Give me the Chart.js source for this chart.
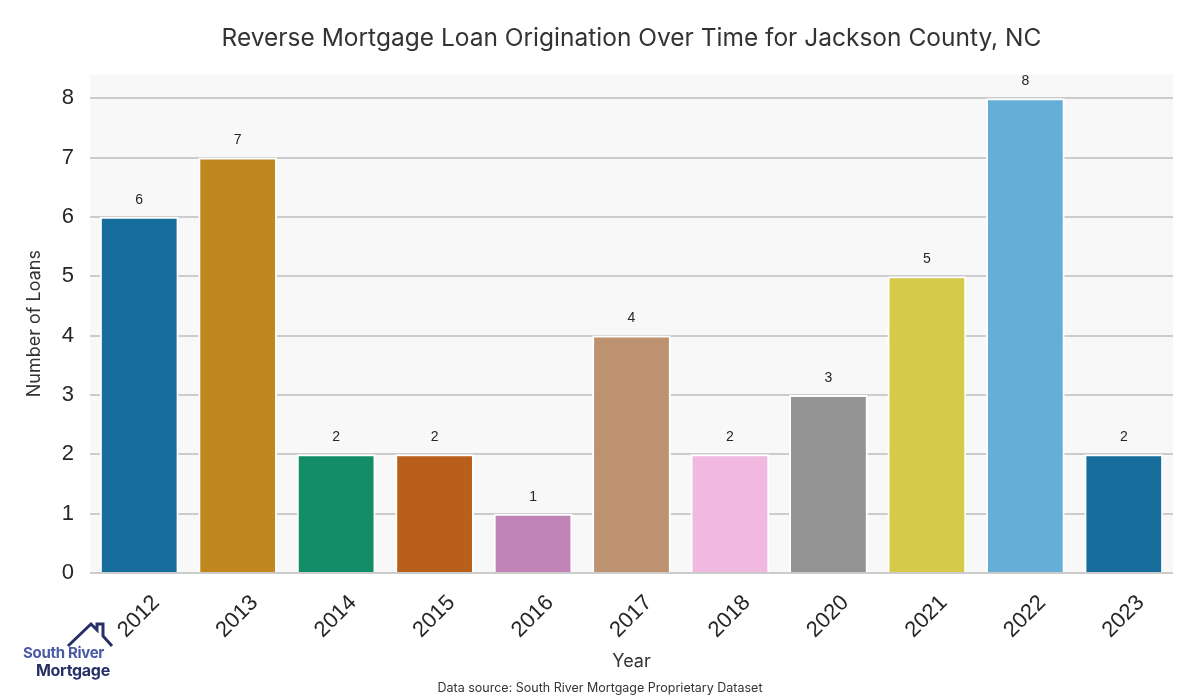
<!DOCTYPE html>
<html>
<head>
<meta charset="utf-8">
<script src="https://cdn.jsdelivr.net/npm/chart.js@4/dist/chart.umd.min.js"></script>
<style>
  html, body { margin: 0; padding: 0; background: #fff; }
  #wrap { position: relative; width: 1200px; height: 700px; }
  #logo { position: absolute; left: 18px; top: 618px; width: 100px; height: 64px; }
  #logo svg { position: absolute; left: 0; top: 0; }
  #logo .l1 { position: absolute; left: 5px; top: 25px; font: bold 15px Inter, sans-serif; color: #4a5aa6; letter-spacing: -0.3px; white-space: nowrap; }
  #logo .l2 { position: absolute; left: 18px; top: 42px; font: bold 16px Inter, sans-serif; color: #263066; letter-spacing: -0.3px; white-space: nowrap; }
</style>
</head>
<body>
<div id="wrap">
  <canvas id="chart" width="1200" height="700"></canvas>
  <div id="logo">
    <svg width="100" height="30" viewBox="18 618 100 30">
      <path d="M68 646 L91 624 L97 630 L97 624 L103 624 L103 636 L112 646" fill="none" stroke="#263066" stroke-width="3" stroke-linejoin="miter"/>
    </svg>
    <div class="l1">South River</div>
    <div class="l2">Mortgage</div>
  </div>
</div>
<script>
const years = ['2012', '2013', '2014', '2015', '2016', '2017', '2018', '2020', '2021', '2022', '2023'];
const loans = [6, 7, 2, 2, 1, 4, 2, 3, 5, 8, 2];
const barColors = ['#176d9c', '#c1871f', '#138d68', '#b85f1b', '#c283b6', '#bc9270',
  '#f1b8e0', '#939393', '#d5cb48', '#64aed7', '#176d9c'];
const sourceNote = 'Data source: South River Mortgage Proprietary Dataset';

// grey panel behind the plot
const plotBackground = {
  id: 'plotBackground',
  beforeDraw(chart) {
    const {ctx, chartArea: a} = chart;
    ctx.save();
    ctx.fillStyle = '#f8f8f8';
    ctx.fillRect(a.left, a.top, a.right - a.left, a.bottom - a.top);
    ctx.restore();
  }
};

// value above each bar, plus the source line centred on the page
const barValues = {
  id: 'barValues',
  afterDatasetsDraw(chart) {
    const ctx = chart.ctx;
    const meta = chart.getDatasetMeta(0);
    ctx.save();
    ctx.font = '14px "Liberation Sans", Arial, sans-serif';
    ctx.fillStyle = '#262626';
    ctx.textAlign = 'center';
    ctx.textBaseline = 'middle';
    meta.data.forEach(function(bar, i) {
      ctx.fillText(loans[i], bar.x, bar.y - 17);
    });
    ctx.font = '12.5px Inter, sans-serif';
    ctx.fillStyle = '#333333';
    ctx.fillText(sourceNote, chart.width / 2, 688);
    ctx.restore();
  }
};

new Chart(document.getElementById('chart').getContext('2d'), {
  type: 'bar',
  data: {
    labels: years,
    datasets: [
      {
        data:               loans,
        backgroundColor:    barColors,
        borderColor:        '#ffffff',
        borderWidth:        2,
        categoryPercentage: 0.8,
        barPercentage:      1.0
      }
    ]
  },
  options: {
    responsive: false,
    animation: false,
    layout: {
      padding: {top: 0, right: 27, bottom: 22, left: 0}
    },
    plugins: {
      legend:  {display: false},
      tooltip: {enabled: false},
      title: {
        display:  true,
        text:     'Reverse Mortgage Loan Origination Over Time for Jackson County, NC',
        fullSize: false,
        color:    '#333333',
        font:     {family: 'Inter, sans-serif', size: 24.5, weight: 'normal'},
        padding:  {top: 24, bottom: 21}
      }
    },
    scales: {
      x: {
        grid:   {display: false},
        border: {display: false},
        ticks: {
          color:       '#262626',
          font:        {family: '"Liberation Sans", Arial, sans-serif', size: 22},
          minRotation: 45,
          maxRotation: 45,
          autoSkip:    false,
          padding:     9,
          labelOffset: 17
        },
        title: {
          display: true,
          text:    'Year',
          color:   '#333333',
          font:    {family: 'Inter, sans-serif', size: 18},
          padding: {top: 4, bottom: 6}
        },
        afterFit: function(scale) {
          scale.height = 105;
        }
      },
      y: {
        min: 0,
        max: 8.4,
        grid: {
          color:     '#cccccc',
          lineWidth: 2,
          drawTicks: false
        },
        border: {display: false},
        ticks: {
          stepSize:      1,
          includeBounds: false,
          color:         '#262626',
          font:          {family: '"Liberation Sans", Arial, sans-serif', size: 22},
          padding:       16
        },
        title: {
          display: true,
          text:    'Number of Loans',
          color:   '#333333',
          font:    {family: 'Inter, sans-serif', size: 18},
          padding: {top: 24, bottom: 0}
        },
        afterFit: function(scale) {
          scale.width = 90;
        }
      }
    }
  },
  plugins: [plotBackground, barValues]
});
</script>
</body>
</html>
